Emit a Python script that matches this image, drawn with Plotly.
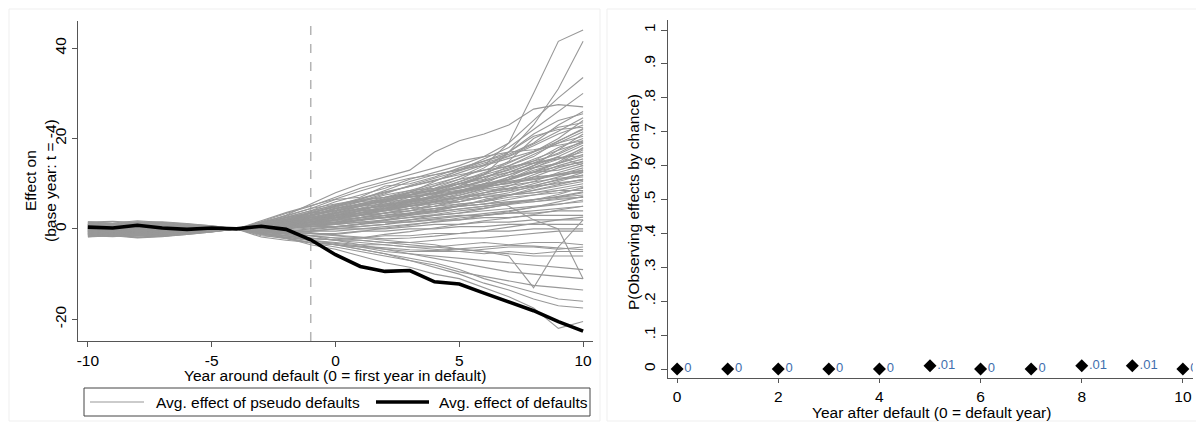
import plotly.graph_objects as go

# ---------------- data ----------------
years_left = list(range(-10, 11))

defaults_effect = [0.4, 0.2, 0.8, 0.2, -0.1, 0.2, 0.0, 0.6, -0.1, -2.4, -5.7, -8.3, -9.4,
                   -9.2, -11.7, -12.2, -14.2, -16.1, -18.1, -20.5, -22.6]

pseudo_effects = [
    [0.8, 0.6, 0.9, 0.5, 0.4, 0.2, 0, 0.9, 1.8, 3.0, 4.5, 5.5, 7.0, 8.5, 10.0, 11.5, 14.0, 19.0, 30.0, 41.5, 44.0],
    [-0.5, -0.3, -0.6, -0.4, -0.2, -0.1, 0, 0.5, 1.2, 2.0, 3.0, 4.5, 5.0, 6.5, 8.0, 10.0, 12.0, 17.0, 23.0, 31.0, 41.5],
    [1.2, 1.0, 1.3, 1.1, 0.8, 0.5, 0, 1.0, 2.5, 4.0, 6.0, 7.5, 9.0, 11.0, 12.5, 14.0, 16.0, 19.0, 24.0, 29.0, 33.5],
    [-1.0, -0.8, -1.2, -1.0, -0.6, -0.3, 0, 0.3, 1.0, 1.5, 2.5, 4.0, 6.0, 8.0, 10.5, 13.0, 15.5, 18.0, 22.0, 26.0, 30.0],
    [0.3, 0.5, 0.2, 0.4, 0.6, 0.3, 0, 1.2, 3.0, 5.5, 8.0, 10.0, 11.5, 13.0, 17.0, 19.5, 21.0, 23.0, 26.5, 27.5, 27.0],
    [-0.2, 0.1, -0.3, 0.0, 0.2, 0.1, 0, 0.6, 1.5, 2.5, 3.5, 5.0, 6.5, 8.0, 9.0, 11.0, 13.5, 17.0, 21.0, 24.0, 25.5],
    [1.5, 1.2, 1.6, 1.4, 1.0, 0.6, 0, 0.8, 2.0, 3.5, 5.0, 6.5, 8.5, 10.5, 12.0, 13.0, 15.0, 16.5, 19.0, 23.0, 26.0],
    [-1.5, -1.2, -1.8, -1.5, -1.0, -0.5, 0, 0.2, 0.8, 1.5, 3.0, 4.0, 4.5, 6.0, 7.5, 9.5, 12.0, 15.0, 20.0, 22.5, 23.5],
    [0.6, 0.4, 0.7, 0.9, 0.5, 0.3, 0, 1.5, 2.8, 4.5, 6.5, 7.0, 9.5, 10.0, 11.5, 13.5, 15.0, 17.0, 20.5, 22.0, 22.5],
    [-0.8, -0.6, -1.0, -0.7, -0.4, -0.2, 0, -0.5, 0.0, 1.0, 2.0, 3.5, 5.0, 6.0, 8.5, 10.0, 11.0, 14.0, 16.0, 19.5, 22.0],
    [0.2, 0.0, 0.3, 0.1, -0.1, 0.0, 0, 0.4, 1.0, 2.0, 2.5, 4.0, 5.5, 7.0, 8.0, 9.0, 10.5, 12.0, 14.0, 17.5, 21.0],
    [1.0, 0.7, 1.1, 0.8, 0.6, 0.4, 0, 0.7, 1.5, 3.0, 4.0, 5.5, 6.0, 7.5, 9.5, 11.0, 12.0, 13.5, 15.0, 16.5, 19.0],
    [-1.2, -1.0, -1.4, -1.1, -0.8, -0.5, 0, -0.3, 0.5, 1.0, 1.5, 2.5, 3.5, 4.5, 6.0, 7.5, 9.0, 11.5, 14.0, 16.0, 18.5],
    [0.5, 0.3, 0.6, 0.4, 0.3, 0.2, 0, 1.0, 2.0, 2.5, 3.5, 4.5, 5.0, 6.0, 7.0, 8.0, 10.0, 12.5, 14.5, 15.5, 17.0],
    [-0.3, -0.5, -0.2, -0.4, -0.3, -0.2, 0, 0.1, 0.6, 1.5, 2.0, 3.0, 4.5, 5.5, 6.5, 8.5, 10.0, 11.0, 13.0, 14.5, 16.0],
    [1.3, 1.1, 1.4, 1.2, 0.9, 0.6, 0, 0.3, 1.0, 2.0, 3.5, 5.0, 6.0, 6.5, 7.0, 8.5, 9.5, 10.0, 12.0, 14.0, 15.5],
    [-1.8, -1.5, -2.0, -1.7, -1.2, -0.7, 0, 0.5, 1.5, 2.0, 2.5, 3.0, 4.0, 5.0, 6.0, 7.0, 8.0, 9.5, 11.5, 13.5, 15.0],
    [0.0, 0.2, -0.1, 0.1, 0.3, 0.2, 0, 0.8, 1.8, 3.0, 4.5, 6.0, 7.5, 8.5, 9.0, 10.0, 9.5, 11.0, 12.5, 13.0, 14.5],
    [0.9, 0.6, 1.0, 0.7, 0.5, 0.3, 0, -0.2, 0.3, 0.5, 1.0, 2.0, 3.0, 4.0, 5.0, 6.5, 8.0, 9.0, 10.5, 12.5, 14.0],
    [-0.6, -0.4, -0.8, -0.5, -0.3, -0.2, 0, 0.6, 1.2, 2.5, 3.0, 4.0, 4.5, 5.5, 7.0, 8.0, 9.0, 10.5, 11.0, 12.0, 13.5],
    [0.4, 0.2, 0.5, 0.3, 0.1, 0.1, 0, 0.2, 0.5, 1.0, 2.0, 2.5, 3.5, 4.0, 5.5, 6.0, 7.5, 8.5, 10.0, 11.5, 13.0],
    [-1.0, -0.9, -1.3, -1.0, -0.7, -0.4, 0, 1.3, 2.5, 3.5, 5.0, 6.0, 6.5, 7.5, 8.0, 9.0, 10.0, 10.5, 11.5, 12.0, 12.5],
    [1.6, 1.3, 1.8, 1.5, 1.1, 0.7, 0, 0.0, 0.5, 1.5, 1.5, 2.5, 3.0, 3.5, 4.5, 5.5, 6.0, 7.5, 9.0, 10.5, 12.0],
    [-0.2, -0.4, -0.1, -0.3, -0.2, -0.1, 0, 0.4, 1.0, 1.5, 2.5, 3.5, 4.0, 5.0, 6.0, 7.0, 8.5, 9.0, 9.5, 11.0, 11.5],
    [0.7, 0.5, 0.8, 0.6, 0.4, 0.2, 0, 0.9, 2.0, 2.0, 3.0, 3.5, 4.5, 5.0, 5.5, 6.5, 7.0, 8.0, 9.5, 10.0, 11.0],
    [-1.4, -1.1, -1.6, -1.3, -0.9, -0.5, 0, -0.4, -0.5, 0.0, 0.5, 1.0, 2.0, 3.0, 4.0, 5.0, 6.5, 7.5, 8.5, 9.5, 10.5],
    [0.1, -0.1, 0.2, 0.0, 0.0, 0.0, 0, 0.5, 1.5, 2.5, 3.5, 4.5, 5.0, 5.5, 6.0, 6.0, 7.0, 7.5, 8.0, 9.0, 10.0],
    [1.1, 0.8, 1.2, 0.9, 0.7, 0.4, 0, 0.6, 1.0, 1.0, 1.5, 2.0, 2.5, 3.5, 4.0, 5.0, 5.5, 6.5, 7.5, 8.5, 9.5],
    [-0.9, -0.7, -1.1, -0.8, -0.5, -0.3, 0, 0.1, 0.5, 1.5, 2.5, 3.0, 4.0, 4.5, 5.0, 5.5, 6.0, 7.0, 7.5, 8.0, 9.0],
    [0.3, 0.1, 0.4, 0.2, 0.2, 0.1, 0, 1.1, 2.2, 3.5, 4.0, 5.0, 5.5, 6.0, 6.5, 7.0, 7.5, 7.5, 8.0, 8.5, 8.5],
    [-0.4, -0.2, -0.5, -0.3, -0.1, 0.0, 0, -0.6, -0.8, -0.5, 0.0, 0.5, 1.0, 2.0, 3.0, 3.5, 4.5, 5.5, 6.5, 7.0, 8.0],
    [0.8, 1.0, 0.6, 0.9, 0.7, 0.4, 0, 0.3, 0.8, 1.2, 1.8, 2.5, 3.0, 3.5, 4.5, 5.0, 5.5, 6.0, 6.5, 7.0, 7.5],
    [-1.6, -1.3, -1.9, -1.5, -1.1, -0.6, 0, 0.7, 1.5, 2.0, 2.5, 3.0, 3.5, 4.0, 4.5, 5.0, 5.5, 6.0, 6.0, 6.5, 7.0],
    [0.0, -0.2, 0.1, -0.1, 0.0, 0.0, 0, 0.0, 0.2, 0.5, 1.0, 1.5, 2.0, 2.5, 3.0, 3.5, 4.0, 4.5, 5.0, 5.5, 6.0],
    [1.4, 1.2, 1.5, 1.3, 1.0, 0.5, 0, -0.8, -1.0, -0.5, 0.0, 0.0, 0.5, 1.0, 1.5, 2.0, 3.0, 3.5, 4.0, 4.5, 5.0],
    [-0.7, -0.5, -0.9, -0.6, -0.4, -0.2, 0, 0.4, 0.5, 1.0, 1.0, 1.5, 1.5, 2.0, 2.5, 3.0, 3.0, 3.5, 3.5, 4.0, 4.0],
    [0.5, 0.4, 0.6, 0.5, 0.3, 0.2, 0, 0.2, 0.0, 0.5, 0.5, 1.0, 1.5, 1.5, 2.0, 2.0, 2.5, 2.5, 3.0, 3.0, 3.0],
    [-1.1, -0.9, -1.3, -1.0, -0.7, -0.4, 0, -0.2, -0.5, -0.5, -0.5, 0.0, 0.0, 0.5, 1.0, 1.0, 1.5, 1.5, 2.0, 2.0, 2.0],
    [0.2, 0.3, 0.1, 0.2, 0.1, 0.1, 0, -0.4, -0.8, -1.0, -1.0, -0.5, -0.5, 0.0, 0.0, 0.5, 0.5, 1.0, 1.0, 1.0, 1.0],
    [-0.3, -0.1, -0.4, -0.2, -0.1, 0.0, 0, -1.0, -1.5, -1.5, -2.0, -2.0, -1.5, -1.5, -1.0, -1.0, -0.5, -0.5, 0.0, 0.0, 0.0],
    [1.0, 0.8, 1.2, 1.0, 0.8, 0.5, 0, -0.6, -1.2, -2.0, -2.5, -2.5, -3.0, -3.0, -2.5, -2.0, -2.0, -1.5, -1.0, -0.5, -0.5],
    [-1.3, -1.0, -1.5, -1.2, -0.9, -0.5, 0, -1.2, -1.8, -2.5, -3.0, -3.5, -3.5, -4.0, -4.0, -3.5, -3.0, -3.5, -3.0, -3.0, -3.5],
    [0.6, 0.4, 0.7, 0.5, 0.3, 0.2, 0, -1.5, -2.0, -3.0, -3.5, -4.0, -4.5, -5.0, -5.0, -5.0, -4.5, -4.0, -4.0, -4.5, -4.0],
    [-0.5, -0.4, -0.6, -0.5, -0.3, -0.2, 0, -0.9, -1.5, -2.0, -2.5, -3.0, -3.5, -4.0, -4.5, -5.0, -5.5, -5.0, -5.5, -5.0, -5.0],
    [0.9, 0.7, 1.0, 0.8, 0.5, 0.3, 0, -0.3, -1.0, -1.5, -2.0, -2.5, -3.0, -3.5, -4.0, -4.5, -5.0, -5.5, -6.0, -6.0, -6.0],
    [-1.7, -1.4, -1.9, -1.6, -1.1, -0.6, 0, -1.8, -2.5, -3.0, -3.5, -4.0, -5.0, -5.5, -6.0, -6.5, -7.0, -7.5, -8.0, -8.5, -9.0],
    [0.1, 0.0, 0.2, 0.1, 0.0, 0.0, 0, -0.7, -1.0, -1.5, -2.5, -3.5, -4.5, -5.5, -6.5, -7.5, -8.5, -9.5, -10.0, -10.5, -11.0],
    [-0.1, -0.3, 0.0, -0.2, -0.1, 0.0, 0, -1.3, -2.2, -3.0, -4.0, -5.0, -6.0, -7.0, -8.0, -9.5, -10.5, -11.5, -12.5, -13.0, -13.5],
    [1.2, 0.9, 1.3, 1.0, 0.7, 0.4, 0, -1.0, -2.0, -3.0, -3.5, -4.5, -5.5, -6.5, -7.5, -9.0, -11.0, -12.5, -14.0, -15.5, -16.0],
    [-0.8, -0.6, -1.0, -0.8, -0.5, -0.3, 0, -0.5, -1.5, -2.5, -3.5, -4.5, -5.5, -7.0, -8.5, -10.0, -12.0, -13.5, -15.5, -17.0, -17.5],
    [0.4, 0.2, 0.5, 0.3, 0.2, 0.1, 0, -0.8, -2.0, -3.5, -4.5, -6.0, -7.5, -8.5, -10.0, -11.0, -13.0, -15.0, -17.5, -22.0, -20.5],
    [-0.6, -0.4, -0.7, -0.5, -0.3, -0.2, 0, -0.3, -0.8, -1.0, -1.5, -2.0, -2.5, -3.0, -3.5, -4.5, -5.0, -6.0, -13.0, -4.0, 2.0],
    [0.7, 0.5, 0.8, 0.6, 0.4, 0.2, 0, 0.4, 1.0, 1.5, 2.0, 3.0, 3.5, 4.5, 5.0, 6.0, 7.0, 5.0, 2.0, 0.0, -11.0],
    [0.5, 0.7, 0.4, 0.6, 0.4, 0.2, 0, 1.4, 3.0, 4.5, 5.5, 6.5, 7.0, 8.0, 8.5, 10.0, 11.5, 13.0, 15.0, 18.0, 20.0],
    [-0.6, -0.8, -0.5, -0.7, -0.5, -0.3, 0, 0.3, 0.9, 1.8, 2.8, 4.2, 5.5, 6.5, 8.0, 9.5, 11.5, 12.5, 13.5, 14.5, 16.5],
    [1.0, 1.2, 0.9, 1.1, 0.8, 0.5, 0, 0.5, 1.3, 2.2, 3.2, 4.0, 4.8, 5.8, 7.2, 8.2, 9.2, 10.2, 11.2, 12.2, 13.0],
    [-1.2, -1.4, -1.1, -1.3, -0.9, -0.5, 0, 0.8, 1.6, 2.4, 3.8, 5.2, 6.2, 7.2, 7.8, 8.6, 9.4, 10.8, 12.5, 14.5, 17.5],
    [0.2, 0.4, 0.1, 0.3, 0.2, 0.1, 0, -0.2, 0.0, 0.8, 1.2, 1.8, 2.6, 3.4, 4.2, 5.2, 6.2, 7.4, 8.6, 9.8, 11.0],
    [0.0, 0.2, -0.2, 0.0, 0.1, 0.0, 0, 1.0, 2.0, 3.2, 4.2, 5.5, 6.0, 7.5, 8.5, 10.5, 12.5, 14.0, 16.5, 19.0, 21.5],
    [-0.4, -0.6, -0.3, -0.5, -0.3, -0.2, 0, 0.0, 0.4, 0.6, 1.2, 2.2, 2.6, 3.2, 3.8, 4.4, 5.0, 5.6, 6.4, 7.2, 8.2],
    [0.7, 0.9, 0.6, 0.8, 0.6, 0.3, 0, 0.6, 1.4, 2.6, 3.6, 4.4, 5.2, 6.2, 6.8, 7.4, 8.8, 9.6, 10.4, 11.2, 11.8],
    [-0.9, -1.1, -0.8, -1.0, -0.7, -0.4, 0, -0.6, -0.6, -0.2, 0.4, 1.2, 1.8, 2.6, 3.2, 4.0, 4.6, 5.4, 6.0, 6.8, 7.0],
    [1.5, 1.7, 1.4, 1.6, 1.2, 0.7, 0, 0.9, 1.7, 2.8, 4.0, 5.0, 6.8, 8.2, 9.6, 11.6, 13.0, 14.8, 17.0, 20.0, 24.0],
    [-1.5, -1.7, -1.4, -1.6, -1.2, -0.7, 0, -0.1, 0.2, 0.8, 1.4, 2.0, 2.4, 3.0, 3.6, 4.4, 5.0, 5.8, 6.4, 7.6, 9.2],
    [0.3, 0.5, 0.2, 0.4, 0.3, 0.2, 0, 1.6, 3.4, 5.0, 7.0, 9.0, 10.5, 12.0, 13.5, 15.0, 16.0, 17.0, 17.5, 18.5, 19.5],
    [-0.2, 0.0, -0.3, -0.1, 0.0, 0.0, 0, -0.4, -0.2, 0.2, 0.4, 0.6, 1.0, 1.6, 2.2, 2.8, 3.4, 4.0, 4.8, 5.4, 6.4],
    [0.8, 0.6, 0.9, 0.7, 0.5, 0.3, 0, 0.2, 0.6, 1.2, 2.2, 3.2, 4.2, 5.0, 6.2, 7.0, 8.0, 8.8, 9.6, 10.8, 12.5],
    [-0.7, -0.9, -0.6, -0.8, -0.6, -0.3, 0, 0.9, 2.2, 3.0, 4.6, 5.4, 6.4, 7.0, 7.6, 8.4, 9.8, 11.4, 12.6, 13.8, 14.8],
    [0.4, 0.6, 0.3, 0.5, 0.4, 0.2, 0, 1.2, 2.6, 4.0, 5.2, 6.8, 8.2, 9.4, 10.6, 12.4, 14.2, 16.0, 18.4, 21.0, 23.0],
    [-0.3, -0.1, -0.4, -0.2, -0.2, -0.1, 0, 0.7, 1.9, 3.4, 4.8, 6.2, 7.8, 9.6, 11.2, 12.8, 14.6, 16.2, 18.8, 21.6, 24.6],
    [1.1, 0.9, 1.2, 1.0, 0.7, 0.4, 0, 1.8, 3.6, 5.2, 6.6, 8.4, 10.0, 11.2, 12.0, 13.2, 14.0, 15.6, 17.2, 19.4, 22.2],
    [-1.1, -0.9, -1.2, -1.0, -0.7, -0.4, 0, 0.4, 1.2, 2.2, 3.4, 4.6, 5.8, 7.4, 8.8, 10.4, 12.2, 14.6, 17.0, 19.0, 20.5],
    [0.6, 0.8, 0.5, 0.7, 0.5, 0.3, 0, 0.5, 1.6, 2.8, 4.4, 5.6, 6.6, 7.6, 8.4, 9.2, 10.6, 12.0, 13.6, 15.4, 17.8],
    [-0.5, -0.7, -0.4, -0.6, -0.4, -0.2, 0, 1.0, 2.4, 3.6, 5.0, 6.6, 8.0, 9.4, 10.8, 12.0, 13.0, 13.8, 14.6, 15.8, 16.2],
    [0.9, 1.1, 0.8, 1.0, 0.7, 0.4, 0, 0.1, 0.7, 1.6, 2.6, 3.6, 4.6, 5.8, 7.0, 8.2, 9.6, 11.0, 12.6, 14.8, 18.0],
    [-1.3, -1.5, -1.2, -1.4, -1.0, -0.6, 0, 1.1, 2.0, 3.0, 4.0, 5.2, 6.4, 7.0, 7.8, 9.2, 10.8, 12.6, 14.6, 16.8, 19.5],
    [0.1, 0.3, 0.0, 0.2, 0.1, 0.0, 0, 0.8, 2.0, 3.8, 5.4, 6.2, 7.0, 7.6, 8.8, 10.0, 11.4, 13.2, 15.4, 17.4, 19.2],
    [-0.8, -1.0, -0.7, -0.9, -0.6, -0.3, 0, -0.1, 0.6, 1.4, 2.4, 3.2, 4.2, 5.4, 6.4, 7.8, 9.4, 11.0, 13.4, 16.0, 14.0],
    [0.2, 0.0, 0.3, 0.1, 0.1, 0.0, 0, 0.3, 0.9, 1.9, 3.3, 4.3, 5.3, 6.3, 7.3, 8.3, 9.3, 10.1, 10.9, 11.9, 12.7],
    [-0.1, -0.3, 0.0, -0.2, -0.1, 0.0, 0, 0.6, 1.4, 2.0, 2.6, 3.6, 4.4, 5.2, 5.8, 6.8, 7.6, 8.4, 9.2, 10.2, 10.8],
    [0.5, 0.3, 0.6, 0.4, 0.2, 0.1, 0, -0.5, -1.1, -1.4, -1.2, -0.6, 0.2, 0.8, 1.6, 2.4, 3.0, 3.8, 4.8, 6.0, 7.2],
    [-1.0, -1.2, -0.9, -1.1, -0.8, -0.4, 0, -0.9, -1.6, -2.2, -2.4, -2.0, -1.2, -0.6, 0.2, 1.0, 1.8, 2.4, 3.2, 4.2, 5.0],
    [0.3, 0.1, 0.4, 0.2, 0.1, 0.0, 0, -0.2, -0.6, -0.8, -1.4, -1.8, -2.2, -2.0, -1.6, -1.0, -0.4, 0.4, 1.2, 2.0, 2.6],
    [-0.4, -0.6, -0.3, -0.5, -0.4, -0.2, 0, -1.1, -1.9, -2.6, -3.2, -3.8, -4.2, -4.6, -4.8, -4.4, -4.0, -3.6, -3.8, -4.2, -4.6],
]

years_right = list(range(0, 11))
p_chance = [0, 0, 0, 0, 0, 0.01, 0, 0, 0.01, 0.01, 0]
p_labels = ["0", "0", "0", "0", "0", ".01", "0", "0", ".01", ".01", "0"]

left_xticks = [-10, -5, 0, 5, 10]
left_xticklabels = ["-10", "-5", "0", "5", "10"]
left_yticks = [-20, 0, 20, 40]
left_yticklabels = ["-20", "0", "20", "40"]
right_xticks = [0, 2, 4, 6, 8, 10]
right_yticks = [0, .1, .2, .3, .4, .5, .6, .7, .8, .9, 1]
right_yticklabels = ["0", ".1", ".2", ".3", ".4", ".5", ".6", ".7", ".8", ".9", "1"]

legend_labels = ["Avg. effect of pseudo defaults", "Avg. effect of defaults"]
default_marker_year = -1

# ---------------- figure ----------------
# The page body has an 8px margin, so the figure is 8px smaller and all
# page-pixel positions below are shifted by that offset.
OFF = 8
W, H = 1204 - OFF, 423 - OFF
FONT = "Liberation Sans, Arial, sans-serif"
GRAY = "#989898"
AXIS = "#555555"
FS = 15.5


def px(x):
    return (x - OFF) / W


def py(y):
    return 1 - (y - OFF) / H


fig = go.Figure()

for series in pseudo_effects:
    fig.add_trace(go.Scatter(x=years_left, y=series, mode="lines",
                             line=dict(color=GRAY, width=1.1),
                             showlegend=False, hoverinfo="skip",
                             xaxis="x", yaxis="y"))

fig.add_trace(go.Scatter(x=years_left, y=defaults_effect, mode="lines",
                         line=dict(color="black", width=3.6),
                         showlegend=False, xaxis="x", yaxis="y"))

fig.add_trace(go.Scatter(x=years_right, y=p_chance, mode="markers+text",
                         marker=dict(symbol="diamond", size=10, color="black"),
                         text=p_labels, textposition="middle right",
                         textfont=dict(family=FONT, size=13, color="#3f6fae"),
                         showlegend=False, xaxis="x2", yaxis="y2"))

axis_common = dict(showgrid=False, zeroline=False, showline=True, linecolor=AXIS,
                   linewidth=1, ticks="outside", tickcolor=AXIS,
                   tickfont=dict(family=FONT, size=FS, color="black"),
                   automargin=False)

fig.update_layout(
    width=W, height=H,
    margin=dict(l=0, r=0, t=0, b=0),
    paper_bgcolor="white", plot_bgcolor="white",
    font=dict(family=FONT, color="black"),
    xaxis=dict(domain=[px(78), px(593)], range=[-10.4, 10.4],
               tickvals=left_xticks, ticktext=left_xticklabels, ticklen=5,
               anchor="y", **axis_common),
    yaxis=dict(domain=[py(341), py(21)], range=[-24.8, 46.0],
               tickvals=left_yticks, ticktext=left_yticklabels, ticklen=5,
               tickangle=-90, anchor="x", **axis_common),
    xaxis2=dict(domain=[px(668), px(1193)], range=[-0.18, 10.2],
                tickvals=right_xticks, ticklen=4, anchor="y2", **axis_common),
    yaxis2=dict(domain=[py(378), py(20)], range=[-0.0265, 1.0295],
                tickvals=right_yticks, ticktext=right_yticklabels, ticklen=6,
                tickangle=-90, anchor="x2", **axis_common),
)

# dashed vertical reference line at t = -1
fig.add_shape(type="line", xref="x", yref="y domain",
              x0=default_marker_year, x1=default_marker_year, y0=0, y1=1,
              line=dict(color="#b4b4b4", width=1.5, dash="dash"), layer="below")

# faint outer frames of the two graph regions
fig.add_shape(type="rect", xref="paper", yref="paper",
              x0=px(9), x1=px(600), y0=py(421), y1=py(9),
              line=dict(color="#efefef", width=1))
fig.add_shape(type="rect", xref="paper", yref="paper",
              x0=px(607), x1=px(1202), y0=py(421), y1=py(9),
              line=dict(color="#efefef", width=1))

ann = dict(xref="paper", yref="paper", showarrow=False,
           xanchor="center", yanchor="middle")

# axis titles
fig.add_annotation(text="Year around default (0 = first year in default)",
                   x=px(335), y=py(375), font=dict(size=FS, family=FONT), **ann)
fig.add_annotation(text="Effect on<br>(base year: t = -4)",
                   x=px(40), y=py(181), textangle=-90,
                   font=dict(size=FS, family=FONT), **ann)
fig.add_annotation(text="Year after default (0 = default year)",
                   x=px(931), y=py(412), font=dict(size=FS, family=FONT), **ann)
fig.add_annotation(text="P(Observing effects by chance)",
                   x=px(633), y=py(202), textangle=-90,
                   font=dict(size=FS, family=FONT), **ann)

# legend box (drawn manually to match position)
fig.add_shape(type="rect", xref="paper", yref="paper",
              x0=px(84), x1=px(590), y0=py(416), y1=py(388),
              line=dict(color="#444444", width=1))
fig.add_shape(type="line", xref="paper", yref="paper",
              x0=px(90), x1=px(144), y0=py(402), y1=py(402),
              line=dict(color=GRAY, width=1.1))
fig.add_annotation(text=legend_labels[0], x=px(154), y=py(402),
                   xref="paper", yref="paper", showarrow=False,
                   xanchor="left", yanchor="middle",
                   font=dict(size=FS, family=FONT))
fig.add_shape(type="line", xref="paper", yref="paper",
              x0=px(376), x1=px(429), y0=py(402), y1=py(402),
              line=dict(color="black", width=3.6))
fig.add_annotation(text=legend_labels[1], x=px(437), y=py(402),
                   xref="paper", yref="paper", showarrow=False,
                   xanchor="left", yanchor="middle",
                   font=dict(size=FS, family=FONT))

fig.write_html("out.html")
